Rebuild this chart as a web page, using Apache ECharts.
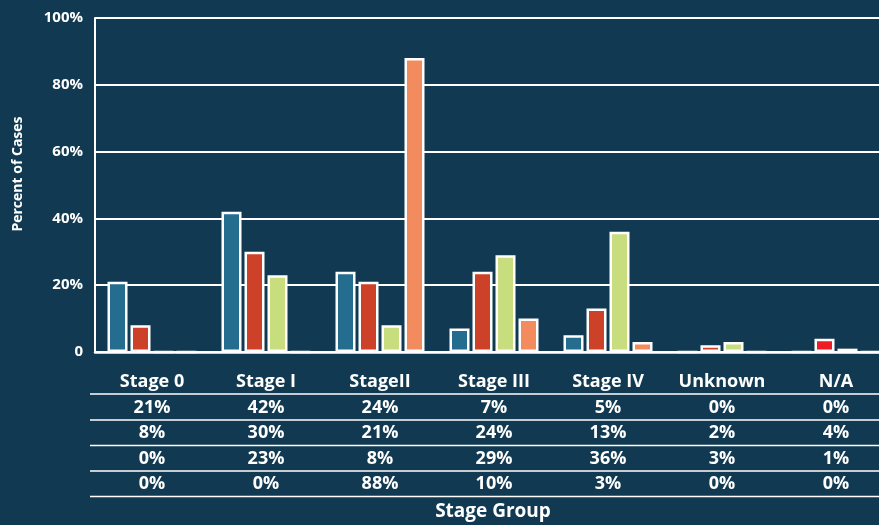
<!DOCTYPE html>
<html>
<head>
<meta charset="utf-8">
<script src="https://cdn.jsdelivr.net/npm/echarts@6/dist/echarts.min.js"></script>
<style>
  html, body { margin: 0; padding: 0; background: #113a52; }
  #chart { width: 879px; height: 525px; }
</style>
</head>
<body>
<div id="chart"></div>
<script>
// Stage groups and the share of cases in each, per cohort
const categories = ['Stage 0', 'Stage I', 'StageII', 'Stage III', 'Stage IV', 'Unknown', 'N/A'];
const cohortA = [21, 42, 24, 7, 5, 0, 0];
const cohortB = [8, 30, 21, 24, 13, 2, 4];
const cohortC = [0, 23, 8, 29, 36, 3, 1];
const cohortD = [0, 0, 88, 10, 3, 0, 0];
const yTicks = [0, 20, 40, 60, 80, 100];

const BG = '#113a52';
const FONT = '"Open Sans", "Noto Sans", sans-serif';
const colors = ['#256d8f', '#cc4128', '#c8dd7e', '#f28c5e'];
// The N/A column uses its own palette
const naColors = [null, '#ee1d25', '#f6a3a3', null];

const allSeries = [cohortA, cohortB, cohortC, cohortD];

const chart = echarts.init(document.getElementById('chart'), null, { renderer: 'canvas' });

// Category label doubles as a table column: header + one row per cohort
function tableLabel(value, idx) {
  let s = '{h|' + value + '}';
  allSeries.forEach(arr => { s += '\n{v|' + arr[idx] + '%}'; });
  return s;
}

const gridLeft = 95, gridTop = 18, gridBottom = 173, gridWidth = 798;
const tableLines = [394, 420, 445.5, 471, 496.5];

const option = {
  backgroundColor: BG,
  animation: false,
  grid: {
    left: gridLeft, top: gridTop, bottom: gridBottom, width: gridWidth,
    containLabel: false,
    outerBoundsMode: 'none'
  },
  xAxis: {
    type: 'category',
    data: categories,
    axisLine: { show: true, lineStyle: { color: '#ffffff', width: 2.5 } },
    axisTick: { show: false },
    axisLabel: {
      interval: 0,
      margin: 16,
      formatter: tableLabel,
      rich: {
        h: { color: '#ffffff', fontFamily: FONT, fontWeight: 'bold', fontSize: 18, lineHeight: 27 },
        v: { color: '#ffffff', fontFamily: FONT, fontWeight: 'bold', fontSize: 18, lineHeight: 25.5 }
      }
    }
  },
  yAxis: {
    type: 'value',
    min: 0,
    max: 100,
    interval: 20,
    axisLine: { show: true, lineStyle: { color: '#ffffff', width: 2 } },
    axisTick: { show: false },
    splitLine: { show: true, lineStyle: { color: '#ffffff', width: 2 } },
    axisLabel: {
      color: '#ffffff',
      fontFamily: FONT,
      fontWeight: 'bold',
      fontSize: 15,
      margin: 12,
      customValues: yTicks,
      formatter: v => (v === 0 ? '0' : v + '%')
    }
  },
  graphic: [
    ...tableLines.map(y => ({
      type: 'line',
      shape: { x1: 90, y1: y, x2: 879, y2: y },
      style: { stroke: '#ffffff', lineWidth: 1.5 },
      silent: true
    })),
    {
      type: 'text',
      x: 493, y: 512,
      style: {
        text: 'Stage Group', fill: '#ffffff', font: 'bold 19px ' + FONT,
        textAlign: 'center', textVerticalAlign: 'middle'
      }
    },
    {
      type: 'text',
      x: 18, y: 174,
      rotation: Math.PI / 2,
      style: {
        text: 'Percent of Cases', fill: '#ffffff', font: 'bold 14px ' + FONT,
        textAlign: 'center', textVerticalAlign: 'middle'
      }
    }
  ],
  series: allSeries.map((arr, si) => ({
    type: 'bar',
    barWidth: 20,
    barGap: '15%',
    data: arr.map((v, ci) => {
      const item = { value: v };
      if (ci === categories.length - 1 && naColors[si]) {
        item.itemStyle = { color: naColors[si] };
      }
      return item;
    }),
    itemStyle: { color: colors[si], borderColor: '#ffffff', borderWidth: 2.5 }
  }))
};

chart.setOption(option);
</script>
</body>
</html>
